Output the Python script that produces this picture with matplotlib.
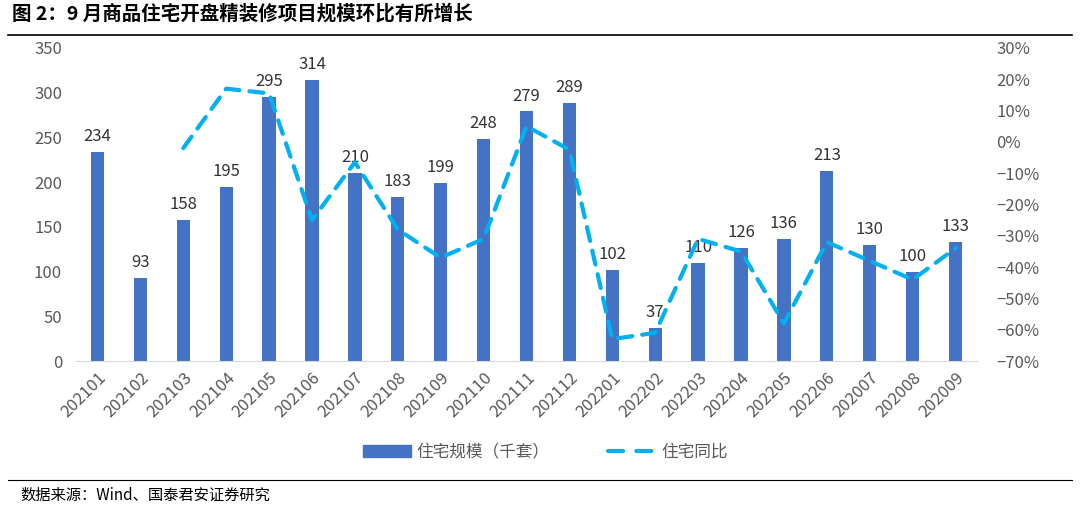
import matplotlib
matplotlib.use("Agg")
import matplotlib.pyplot as plt
from matplotlib.ticker import FuncFormatter
from matplotlib.lines import Line2D

plt.rcParams['font.family'] = ['Noto Sans CJK SC', 'DejaVu Sans']
plt.rcParams['axes.unicode_minus'] = False

categories = ["202101", "202102", "202103", "202104", "202105", "202106", "202107",
              "202108", "202109", "202110", "202111", "202112", "202201", "202202",
              "202203", "202204", "202205", "202206", "202007", "202008", "202009"]
scale_values = [234, 93, 158, 195, 295, 314, 210, 183, 199, 248, 279, 289,
                102, 37, 110, 126, 136, 213, 130, 100, 133]
yoy_values = [None, None, -2, 17, 15.5, -25, -6.5, -28, -37, -31, 5, -2.5,
              -63, -61, -31, -35, -58, -32, -38, -44, -34]

bar_color = '#4472C4'
line_color = '#00B0F0'
text_color = '#333333'
tick_color = '#595959'

fig = plt.figure(figsize=(10.8, 5.07), dpi=100)
ax = fig.add_axes([76/1080, 1-361/507, (977-76)/1080, (361-48)/507])
ax2 = ax.twinx()

x = list(range(len(categories)))
ax.bar(x, scale_values, width=0.31, color=bar_color, zorder=2)
for xi, v in zip(x, scale_values):
    ax.annotate(str(v), (xi, v), xytext=(0, 5), textcoords='offset points',
                ha='center', va='bottom', fontsize=12, color=text_color)

lx = [xi for xi, v in zip(x, yoy_values) if v is not None]
ly = [v for v in yoy_values if v is not None]
ax2.plot(lx, ly, color=line_color, lw=3.0, dashes=(3.4, 2.4), dash_capstyle='round',
         solid_capstyle='round', zorder=3)

ax.set_xlim(-0.5, len(categories) - 0.5)
ax.set_ylim(0, 350)
ax.set_yticks(range(0, 351, 50))
ax2.set_ylim(-70, 30)
ax2.set_yticks(range(-70, 31, 10))
ax2.yaxis.set_major_formatter(FuncFormatter(lambda v, p: f"{int(v)}%".replace('-', '−')))

ax.set_xticks(x)
ax.set_xticklabels(categories, rotation=45, ha='right', rotation_mode='anchor')

for a in (ax, ax2):
    for s in ('top', 'left', 'right', 'bottom'):
        a.spines[s].set_visible(False)
    a.tick_params(length=0, labelsize=12, colors=tick_color)
ax.spines['bottom'].set_visible(True)
ax.spines['bottom'].set_color('#D9D9D9')
ax.tick_params(axis='y', pad=10)
ax.tick_params(axis='x', pad=6)
ax2.tick_params(axis='y', pad=14)
ax2.patch.set_visible(False)

handles = [plt.Rectangle((0, 0), 1, 1, color=bar_color),
           Line2D([0], [0], color=line_color, lw=3.0, dashes=(3.6, 3.2), dash_capstyle='round')]
fig.legend(handles, ['住宅规模（千套）', '住宅同比'], loc='center', bbox_to_anchor=(0.505, 1-452/507),
           ncol=2, frameon=False, fontsize=12, labelcolor=tick_color, handlelength=2.9,
           columnspacing=3.5, handletextpad=0.3)

fig.text(12/1080, 1-14/507, '图 2：9 月商品住宅开盘精装修项目规模环比有所增长', fontsize=14,
         fontweight='bold', va='center', ha='left', color='black')
fig.add_artist(Line2D([8/1080, 1072/1080], [1-35/507, 1-35/507], color='black', lw=1.2))
fig.add_artist(Line2D([8/1080, 1072/1080], [1-480/507, 1-480/507], color='black', lw=0.8))
fig.text(20/1080, 1-495/507, '数据来源：Wind、国泰君安证券研究', fontsize=11,
         va='center', ha='left', color='black')

fig.savefig('out.png', dpi=100)
